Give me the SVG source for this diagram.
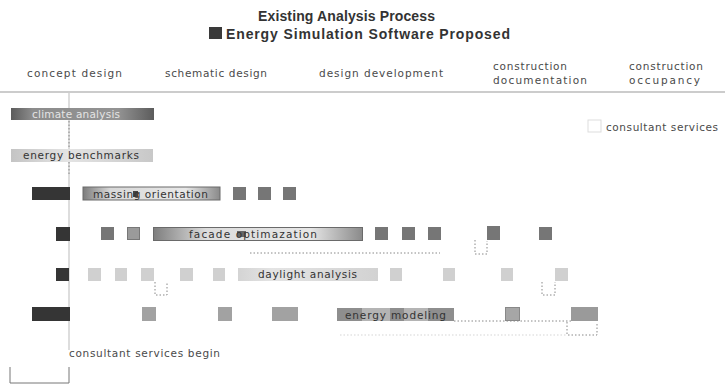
<svg xmlns="http://www.w3.org/2000/svg" width="725" height="388" viewBox="0 0 725 388">
  <defs>
    <style>
      .title { font-family: "Liberation Sans", Arial, sans-serif; font-weight: bold; font-size: 14px; fill: #333; }
      .hdr { font-family: "DejaVu Sans", "Liberation Sans", sans-serif; font-size: 10.5px; fill: #4a4a4a; }
      .lbl { font-family: "DejaVu Sans", "Liberation Sans", sans-serif; font-size: 10.5px; fill: #333; }
      .lbl-light { font-family: "DejaVu Sans", "Liberation Sans", sans-serif; font-size: 10.5px; fill: #e4e4e4; }
      .dark { fill: #353535; }
      .mid { fill: #767676; }
      .soft { fill: #a2a2a2; }
      .pale { fill: #d0d0d0; }
      .dot { fill: none; stroke: #888; stroke-width: 1; stroke-dasharray: 1.5 2; }
      .axis { fill: none; stroke: #bbb; stroke-width: 1; }
      .rule { fill: none; stroke: #999; stroke-width: 1.2; }
      .frame { stroke: #6a6a6a; stroke-width: 1; }
    </style>
    <linearGradient id="gDarkBar" x1="0" x2="1" y1="0" y2="0">
      <stop offset="0" stop-color="#5c5c5c"/>
      <stop offset="0.15" stop-color="#8c8c8c"/>
      <stop offset="0.75" stop-color="#939393"/>
      <stop offset="1" stop-color="#5c5c5c"/>
    </linearGradient>
    <linearGradient id="gPaleBar" x1="0" x2="1" y1="0" y2="0">
      <stop offset="0" stop-color="#c4c4c4"/>
      <stop offset="0.4" stop-color="#e4e4e4"/>
      <stop offset="1" stop-color="#c8c8c8"/>
    </linearGradient>
    <linearGradient id="gFramedBar" x1="0" x2="1" y1="0" y2="0">
      <stop offset="0" stop-color="#7c7c7c"/>
      <stop offset="0.2" stop-color="#d8d8d8"/>
      <stop offset="0.75" stop-color="#e8e8e8"/>
      <stop offset="1" stop-color="#8a8a8a"/>
    </linearGradient>
    <linearGradient id="gFacade" x1="0" x2="1" y1="0" y2="0">
      <stop offset="0" stop-color="#7e7e7e"/>
      <stop offset="0.25" stop-color="#dcdcdc"/>
      <stop offset="0.75" stop-color="#e6e6e6"/>
      <stop offset="1" stop-color="#8a8a8a"/>
    </linearGradient>
    <linearGradient id="gDaylight" x1="0" x2="1" y1="0" y2="0">
      <stop offset="0" stop-color="#d4d4d4"/>
      <stop offset="0.25" stop-color="#e4e4e4"/>
      <stop offset="1" stop-color="#d2d2d2"/>
    </linearGradient>
  </defs>

  <rect width="725" height="388" fill="#ffffff"/>

  <!-- heading and legend -->
  <g id="heading">
    <text class="title" x="258" y="21" textLength="177">Existing Analysis Process</text>
    <rect x="209" y="27" width="13" height="12" fill="#3a3a3a"/>
    <text class="title" x="226" y="38.5" textLength="284">Energy Simulation Software Proposed</text>
  </g>

  <!-- project phases -->
  <g id="phases">
    <text class="hdr" x="27" y="77" textLength="95">concept design</text>
    <text class="hdr" x="165" y="77" textLength="102">schematic design</text>
    <text class="hdr" x="319" y="77" textLength="124">design development</text>
    <text class="hdr" x="493" y="70" textLength="74">construction</text>
    <text class="hdr" x="493" y="84" textLength="94">documentation</text>
    <text class="hdr" x="629" y="70" textLength="74">construction</text>
    <text class="hdr" x="629" y="84" textLength="71">occupancy</text>
    <line class="rule" x1="0" y1="92" x2="725" y2="92"/>
  </g>

  <!-- connectors -->
  <g id="connectors">
    <line class="axis" x1="69" y1="93" x2="69" y2="350"/>
    <line class="dot" x1="69" y1="121" x2="69" y2="147"/>
    <line class="dot" x1="69" y1="162" x2="69" y2="176"/>
    <line class="dot" x1="250" y1="253" x2="440" y2="253"/>
    <path class="dot" d="M475 240 V254 H487 V241"/>
    <path class="dot" d="M155 282 V295 H167 V282"/>
    <path class="dot" d="M542 282 V295 H555 V282"/>
    <line class="dot" x1="454" y1="321" x2="571" y2="321"/>
    <path class="dot" d="M567 322 V335 H597 V322"/>
    <line class="dot" x1="340" y1="335" x2="567" y2="335" stroke-opacity="0.35"/>
    <rect x="588" y="120" width="13" height="12" fill="none" stroke="#ddd"/>
  </g>

  <!-- climate analysis -->
  <g id="climate-analysis">
    <rect x="11" y="108" width="143" height="12" fill="url(#gDarkBar)"/>
    <text class="lbl-light" x="32" y="118" textLength="88">climate analysis</text>
  </g>

  <!-- energy benchmarks -->
  <g id="energy-benchmarks">
    <rect x="11" y="149" width="142" height="13" fill="url(#gPaleBar)"/>
    <text class="lbl" x="23" y="159" textLength="116">energy benchmarks</text>
  </g>

  <!-- consultant services -->
  <g id="consultant-services">
    <text class="hdr" x="606" y="131" textLength="112">consultant services</text>
  </g>

  <!-- massing orientation -->
  <g id="massing-orientation">
    <rect class="dark" x="32" y="187" width="38" height="13"/>
    <rect x="83" y="187" width="137" height="13" fill="url(#gFramedBar)" class="frame"/>
    <rect x="133" y="191" width="5" height="6" fill="#444"/>
    <text class="lbl" x="93" y="197.5" textLength="115">massing orientation</text>
    <rect class="mid" x="233" y="187" width="13" height="13"/>
    <rect class="mid" x="258" y="187" width="13" height="13"/>
    <rect class="mid" x="283" y="187" width="13" height="13"/>
  </g>

  <!-- facade optimization -->
  <g id="facade-optimazation">
    <rect class="dark" x="56" y="227" width="14" height="14"/>
    <rect class="mid" x="101" y="227" width="13" height="13"/>
    <rect x="127.5" y="227.5" width="12" height="12" fill="#9a9a9a" stroke="#777"/>
    <rect x="153.5" y="227.5" width="209" height="13" fill="url(#gFacade)" class="frame"/>
    <rect x="237" y="231" width="9" height="6" fill="#666"/>
    <text class="lbl" x="189" y="238" textLength="128">facade optimazation</text>
    <rect class="mid" x="375" y="227" width="13" height="13"/>
    <rect class="mid" x="402" y="227" width="13" height="13"/>
    <rect class="mid" x="428" y="227" width="13" height="13"/>
    <rect class="mid" x="487" y="226" width="13" height="14"/>
    <rect class="mid" x="539" y="227" width="13" height="13"/>
  </g>

  <!-- daylight analysis -->
  <g id="daylight-analysis">
    <rect class="dark" x="56" y="268" width="13" height="13"/>
    <rect class="pale" x="88" y="268" width="13" height="13"/>
    <rect class="pale" x="115" y="268" width="12" height="13"/>
    <rect class="pale" x="141" y="268" width="13" height="13"/>
    <rect class="pale" x="180" y="268" width="13" height="13"/>
    <rect class="pale" x="213" y="268" width="12" height="13"/>
    <rect x="238" y="268" width="140" height="13" fill="url(#gDaylight)"/>
    <text class="lbl" x="258" y="278" textLength="99">daylight analysis</text>
    <rect class="pale" x="390" y="268" width="12" height="13"/>
    <rect class="pale" x="443" y="268" width="12" height="13"/>
    <rect class="pale" x="501" y="268" width="12" height="13"/>
    <rect class="pale" x="555" y="268" width="13" height="13"/>
  </g>

  <!-- energy modeling -->
  <g id="energy-modeling">
    <rect class="dark" x="32" y="307" width="38" height="14"/>
    <rect class="soft" x="142" y="307" width="14" height="14"/>
    <rect class="soft" x="218" y="307" width="14" height="14"/>
    <rect class="soft" x="272" y="307" width="26" height="14"/>
    <rect x="337" y="308" width="117" height="13" fill="#b4b4b4"/>
    <rect x="337" y="308" width="25" height="13" fill="#8e8e8e"/>
    <rect x="390" y="308" width="14" height="13" fill="#8e8e8e"/>
    <rect x="428" y="308" width="26" height="13" fill="#8e8e8e"/>
    <text class="lbl" x="345" y="318.5" textLength="101">energy modeling</text>
    <rect x="505.5" y="307.5" width="14" height="13" fill="#a6a6a6" stroke="#888"/>
    <rect x="571" y="307" width="27" height="14" fill="#9a9a9a"/>
  </g>

  <!-- consultant services begin -->
  <g id="consultant-services-begin">
    <text class="hdr" x="69" y="357" textLength="151">consultant services begin</text>
    <path d="M10 367 V383 H69 V367" fill="none" stroke="#777" stroke-width="1"/>
  </g>
</svg>
